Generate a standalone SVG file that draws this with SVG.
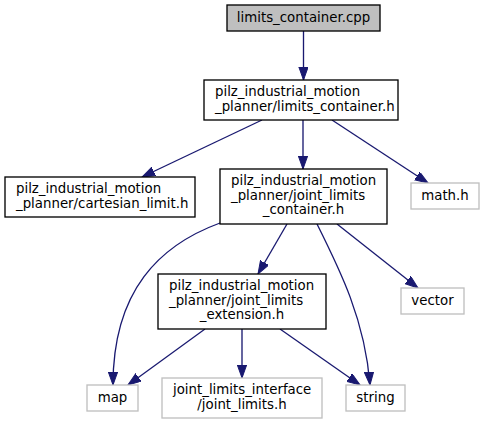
<svg xmlns="http://www.w3.org/2000/svg" width="484" height="424" viewBox="0 0 484 424">
<style>
text{font-family:"DejaVu Sans",sans-serif;font-size:13.33px;fill:#000}
.b{fill:#fff;stroke:#000;stroke-width:1.33}
.g{fill:#fff;stroke:#bfbfbf;stroke-width:1.33}
.c{fill:#bfbfbf;stroke:#000;stroke-width:1.33}
.e{fill:none;stroke:#191970;stroke-width:1.33;marker-end:url(#a)}
.m{text-anchor:middle}
</style>
<defs>
<marker id="a" markerUnits="userSpaceOnUse" markerWidth="14" markerHeight="10" refX="13" refY="4.65" orient="auto">
<path d="M0,0 L13,4.65 L0,9.3 z" fill="#191970" stroke="#191970" stroke-width="1"/>
</marker>
</defs>
<rect width="484" height="424" fill="#fff"/>
<g id="edges">
<path class="e" d="M303.5,31 L303.5,80"/>
<path class="e" d="M262,120 L142,177"/>
<path class="e" d="M303,120 L303,169"/>
<path class="e" d="M332,120 L428,183"/>
<path class="e" d="M220,223 C160,245 113,290 113,385"/>
<path class="e" d="M287,224 L258,274"/>
<path class="e" d="M317,224 C340,270 365,320 370,385"/>
<path class="e" d="M337,224 L418,288"/>
<path class="e" d="M205,329 L128,385"/>
<path class="e" d="M242,329 L242,378"/>
<path class="e" d="M280,329 L360,385"/>
</g>
<g id="node_cpp">
<rect class="c" x="227" y="5" width="153" height="26"/>
<text class="m" x="303.5" y="22">limits_container.cpp</text>
</g>
<g id="node_limits_container_h">
<rect class="b" x="204" y="80" width="194" height="40"/>
<text x="215" y="96">pilz_industrial_motion</text>
<text x="215" y="110.7">_planner/limits_container.h</text>
</g>
<g id="node_cartesian_limit_h">
<rect class="b" x="5" y="177" width="190" height="40"/>
<text x="16" y="193">pilz_industrial_motion</text>
<text x="16" y="207.7">_planner/cartesian_limit.h</text>
</g>
<g id="node_joint_limits_container_h">
<rect class="b" x="220" y="169" width="167" height="55"/>
<text x="231" y="185">pilz_industrial_motion</text>
<text x="231" y="199.7">_planner/joint_limits</text>
<text class="m" x="303.5" y="214.3">_container.h</text>
</g>
<g id="node_math_h">
<rect class="g" x="411" y="183" width="68" height="26"/>
<text class="m" x="445" y="200">math.h</text>
</g>
<g id="node_joint_limits_extension_h">
<rect class="b" x="158" y="274" width="168" height="55"/>
<text x="169" y="290">pilz_industrial_motion</text>
<text x="169" y="304.7">_planner/joint_limits</text>
<text class="m" x="242" y="319.3">_extension.h</text>
</g>
<g id="node_vector">
<rect class="g" x="401" y="288" width="63" height="26"/>
<text class="m" x="432.5" y="305">vector</text>
</g>
<g id="node_joint_limits_interface">
<rect class="g" x="162" y="378" width="160" height="40"/>
<text x="173" y="394">joint_limits_interface</text>
<text class="m" x="242" y="408.7">/joint_limits.h</text>
</g>
<g id="node_string">
<rect class="g" x="346" y="385" width="59" height="26"/>
<text class="m" x="375.5" y="402">string</text>
</g>
<g id="node_map">
<rect class="g" x="87" y="385" width="51" height="26"/>
<text class="m" x="112.5" y="402">map</text>
</g>
</svg>
